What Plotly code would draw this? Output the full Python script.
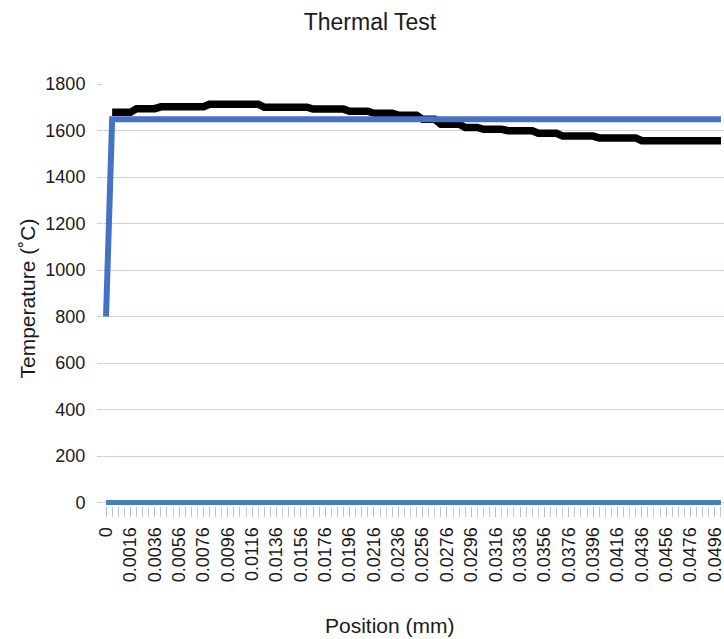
import plotly.graph_objects as go

# ---- data -------------------------------------------------------------
# category axis (mm): 0, 0.0001, then every 0.0005 up to 0.0501
positions = [0, 0.0001] + [round(0.0001 + 0.0005 * k, 4) for k in range(1, 101)]
position_labels = [format(p, "g") for p in positions]

# black series: step levels (category index where each level starts, temperature)
black_step_start = [1, 5, 9, 17, 26, 34, 40, 44, 48, 52, 55, 59, 62, 66, 71, 75, 81, 88]
black_step_temp = [1678, 1694, 1702, 1713, 1700, 1692, 1683, 1674, 1666, 1648,
                   1627, 1613, 1605, 1599, 1588, 1576, 1568, 1556]

# blue series: start value then plateau
blue_start_temp = 800
blue_plateau_temp = 1648

# second blue series: zero everywhere
zero_temp = 0

y_ticks = [0, 200, 400, 600, 800, 1000, 1200, 1400, 1600, 1800]
label_every = 4

# ---- build series on category indices ----------------------------------
n = len(positions)
idx = list(range(n))

black_vals = [None] * n
for i in range(n):
    for s, t in zip(black_step_start, black_step_temp):
        if i >= s:
            black_vals[i] = t

blue_vals = [blue_start_temp] + [blue_plateau_temp] * (n - 1)
zero_vals = [zero_temp] * n

FONT = "Liberation Sans, Arial, sans-serif"

fig = go.Figure()
fig.add_trace(go.Scatter(x=idx, y=black_vals, mode="lines",
                         line=dict(color="#000000", width=7.5, simplify=False),
                         connectgaps=False))
fig.add_trace(go.Scatter(x=idx, y=zero_vals, mode="lines",
                         line=dict(color="#4a7ebb", width=5, simplify=False)))
fig.add_trace(go.Scatter(x=idx, y=blue_vals, mode="lines",
                         line=dict(color="#4472c4", width=6, simplify=False)))

tickvals = idx[::label_every]
ticktext = position_labels[::label_every]

fig.update_layout(
    width=724, height=639,
    margin=dict(l=103, r=0, t=84, b=133),
    paper_bgcolor="white", plot_bgcolor="white",
    showlegend=False,
    font=dict(family=FONT, color="#1a1a1a"),
    title=dict(text="Thermal Test", x=0.511, xref="container", xanchor="center",
               y=1 - 22 / 639, yref="container", yanchor="middle",
               font=dict(size=23, family=FONT, color="#1a1a1a")),
    xaxis=dict(
        range=[-0.5, n - 0.5],
        tickmode="array", tickvals=tickvals, ticktext=ticktext,
        tickangle=-90, tickfont=dict(size=18, family=FONT, color="#1a1a1a"),
        ticks="outside", ticklen=10, tickcolor="#bfbfbf", tickwidth=1,
        ticklabelstandoff=3, ticklabeloverflow="allow",
        minor=dict(tickmode="linear", tick0=0, dtick=1, ticks="outside",
                   ticklen=10, tickcolor="#c8c8c8", tickwidth=1, showgrid=False),
        showgrid=False, zeroline=False, showline=False,
    ),
    yaxis=dict(
        range=[-15, 1800],
        tickmode="array", tickvals=y_ticks,
        tickfont=dict(size=18, family=FONT, color="#1a1a1a"),
        ticks="outside", ticklen=5, tickcolor="#d0ccc8",
        ticklabelstandoff=8,
        showgrid=True, gridcolor="#d6cfc8", gridwidth=1,
        zeroline=False, showline=False,
    ),
    annotations=[
        dict(text="Position (mm)", xref="paper", yref="paper",
             x=(390 - 103) / 621, y=-(625 - 505.5) / 422,
             xanchor="center", yanchor="middle", showarrow=False,
             font=dict(size=21, family=FONT, color="#1a1a1a")),
        dict(text="Temperature (˚C)", xref="paper", yref="paper",
             x=(27 - 103) / 621, y=(505.5 - 298) / 422, textangle=-90,
             xanchor="center", yanchor="middle", showarrow=False,
             font=dict(size=21, family=FONT, color="#1a1a1a")),
    ],
)

fig.write_html("out.html")
